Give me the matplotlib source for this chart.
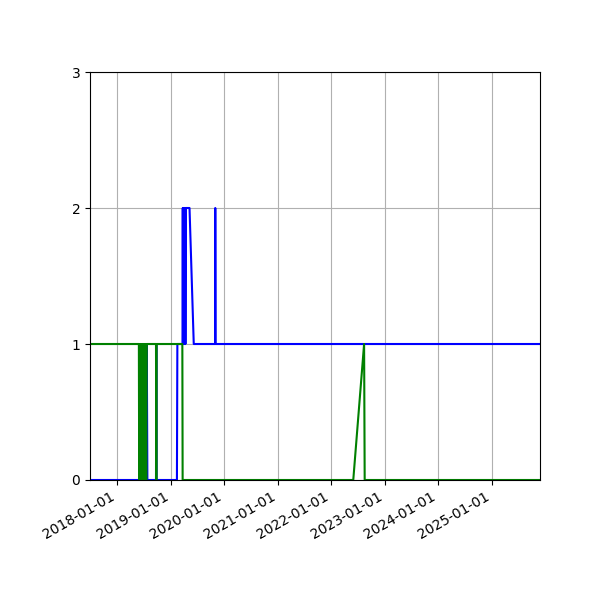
import matplotlib
matplotlib.use("Agg")
import matplotlib.pyplot as plt
import matplotlib.dates as mdates
import pandas as pd

# series 1 (blue)
blue_dates = [
    "2017-06-28", "2018-05-30", "2018-06-03", "2018-06-07", "2018-06-11",
    "2018-06-15", "2018-06-19", "2018-06-23", "2018-06-27", "2018-07-01",
    "2018-07-05", "2018-07-09", "2018-07-13", "2018-07-17", "2018-07-21",
    "2018-07-25", "2018-09-22", "2018-09-24", "2018-09-26",
    "2019-02-12", "2019-02-15", "2019-03-22", "2019-03-24", "2019-03-26",
    "2019-03-28", "2019-03-30", "2019-04-01", "2019-04-03", "2019-04-05",
    "2019-04-07", "2019-04-09", "2019-04-11", "2019-04-14", "2019-05-09",
    "2019-06-07", "2019-10-31", "2019-11-01", "2019-11-03", "2025-11-28",
]
blue_vals = [
    0, 0, 1, 0, 1,
    0, 1, 0, 1, 0,
    1, 0, 1, 0, 1,
    0, 0, 1, 0,
    0, 1, 1, 2, 1,
    2, 1, 2, 1, 2,
    1, 2, 1, 2, 2,
    1, 1, 2, 1, 1,
]

# series 2 (green)
green_dates = [
    "2017-06-28", "2018-05-28", "2018-05-30", "2018-06-03", "2018-06-07",
    "2018-06-11", "2018-06-15", "2018-06-19", "2018-06-23", "2018-06-27",
    "2018-07-01", "2018-07-05", "2018-07-09", "2018-07-13", "2018-07-17",
    "2018-07-21", "2018-07-25", "2018-09-22", "2018-09-24", "2018-09-26",
    "2019-03-21", "2019-03-23", "2022-06-01", "2022-08-14", "2022-08-18",
    "2025-11-28",
]
green_vals = [
    1, 1, 0, 1, 0,
    1, 0, 1, 0, 1,
    0, 1, 0, 1, 0,
    1, 1, 1, 0, 1,
    1, 0, 0, 1, 0,
    0,
]

blue_dates = pd.to_datetime(blue_dates)
green_dates = pd.to_datetime(green_dates)

fig, ax = plt.subplots(figsize=(6, 6), dpi=100)
ax.plot(blue_dates, blue_vals, color="blue")
ax.plot(green_dates, green_vals, color="green")

ax.set_xlim(blue_dates[0], blue_dates[-1])
ax.set_ylim(0, 3)
ax.set_yticks([0, 1, 2, 3])
ax.xaxis.set_major_locator(mdates.YearLocator())
ax.xaxis.set_major_formatter(mdates.DateFormatter("%Y-%m-%d"))
ax.grid(True)
fig.autofmt_xdate()
fig.subplots_adjust(left=0.15, right=0.9, top=0.88, bottom=0.2)

plt.savefig("out.png")
